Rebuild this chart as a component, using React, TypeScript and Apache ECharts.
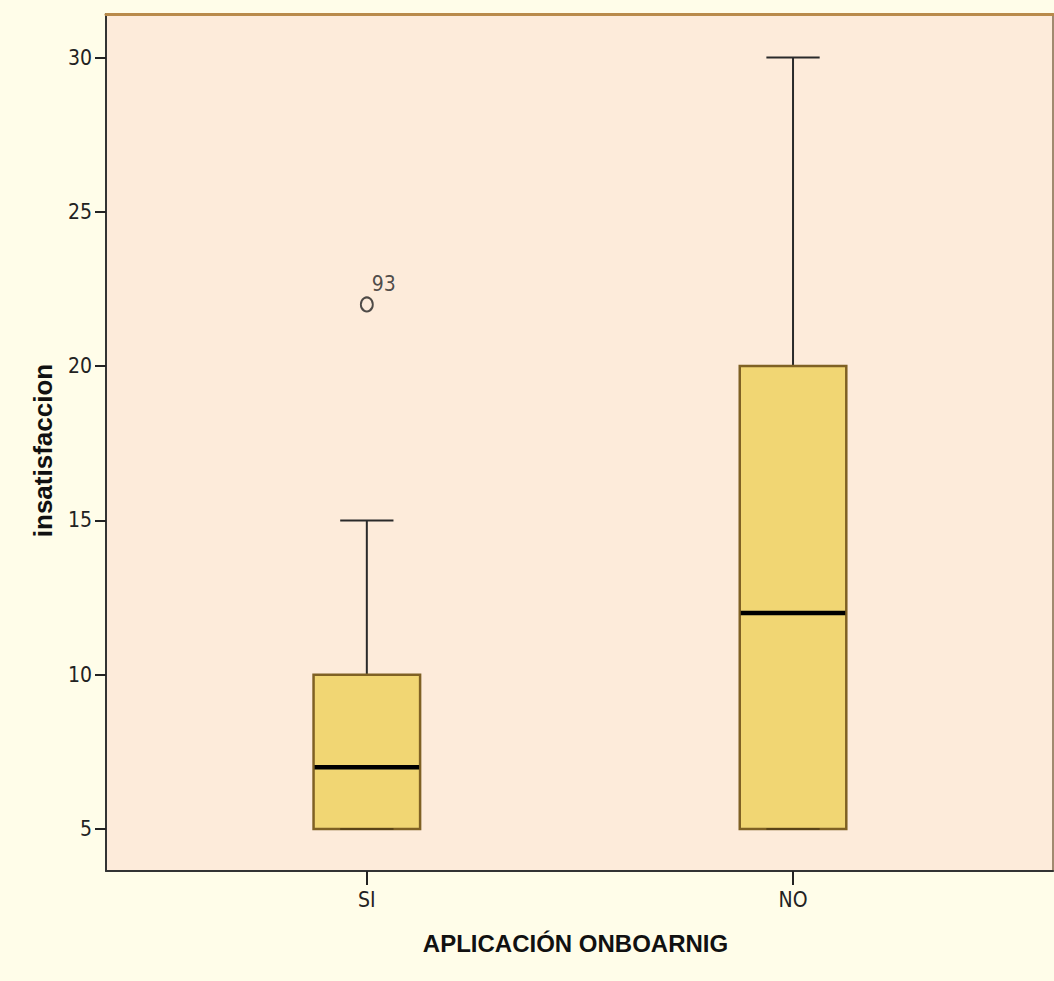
import React, { useEffect, useRef } from "react";
import * as echarts from "echarts";

const categories = ["SI", "NO"];
const minValues = [5, 5];
const q1Values = [5, 5];
const medianValues = [7, 12];
const q3Values = [10, 20];
const maxValues = [15, 30];
const outlierCategory = [0];
const outlierValues = [22];
const outlierLabels = ["93"];
const yTicks = [5, 10, 15, 20, 25, 30];

const NARROW = "'Liberation Sans Narrow', 'Arial Narrow', 'DejaVu Sans Condensed', sans-serif";
const SANS = "'Liberation Sans', Arial, Helvetica, sans-serif";

export default function App() {
  const ref = useRef<HTMLDivElement>(null);
  useEffect(() => {
    if (!ref.current) return;
    const chart = echarts.init(ref.current, null, { renderer: "svg" });
    const boxData = categories.map((_, i) => [
      i,
      minValues[i],
      q1Values[i],
      medianValues[i],
      q3Values[i],
      maxValues[i],
    ]);
    const outData = outlierCategory.map((c, i) => ({
      value: [c, outlierValues[i]],
      name: outlierLabels[i],
    }));
    chart.setOption({
      animation: false,
      backgroundColor: "#fffde9",
      grid: {
        left: 106,
        top: 14,
        right: 1,
        bottom: 110,
        show: true,
        backgroundColor: "#fdebda",
        borderWidth: 0,
      },
      xAxis: [
        {
          type: "value",
          min: -0.612,
          max: 1.61,
          position: "bottom",
          name: "APLICACIÓN ONBOARNIG",
          nameLocation: "middle",
          nameGap: 60,
          nameTextStyle: { fontFamily: SANS, fontWeight: "bold", fontSize: 24, color: "#111", padding: [0, 8, 0, 0] },
          axisLine: { show: true, onZero: false, lineStyle: { color: "#333", width: 2 } },
          axisTick: { show: true, customValues: [0, 1], length: 14, lineStyle: { color: "#222", width: 2 } },
          axisLabel: {
            customValues: [0, 1],
            formatter: (v: number) => categories[Math.round(v)] ?? "",
            margin: 18,
            fontFamily: NARROW,
            fontSize: 21,
            color: "#222",
          },
          splitLine: { show: false },
        },
        {
          type: "value",
          min: -0.612,
          max: 1.61,
          position: "top",
          axisLine: { show: true, onZero: false, lineStyle: { color: "#b98a4b", width: 3 } },
          axisTick: { show: false },
          axisLabel: { show: false },
          splitLine: { show: false },
        },
      ],
      yAxis: [
        {
          type: "value",
          min: 3.64,
          max: 31.41,
          position: "left",
          name: "insatisfaccion",
          nameLocation: "middle",
          nameGap: 50,
          nameTextStyle: { fontFamily: SANS, fontWeight: "bold", fontSize: 26, color: "#111", padding: [0, 16, 0, 0] },
          axisLine: { show: true, onZero: false, lineStyle: { color: "#333", width: 2 } },
          axisTick: { show: true, customValues: yTicks, length: 11, lineStyle: { color: "#222", width: 2 } },
          axisLabel: {
            customValues: yTicks,
            margin: 14,
            fontFamily: NARROW,
            fontSize: 21,
            color: "#222",
          },
          splitLine: { show: false },
        },
        {
          type: "value",
          min: 3.64,
          max: 31.41,
          position: "right",
          axisLine: { show: true, onZero: false, lineStyle: { color: "#a08a70", width: 2 } },
          axisTick: { show: false },
          axisLabel: { show: false },
          splitLine: { show: false },
        },
      ],
      series: [
        {
          type: "custom",
          xAxisIndex: 0,
          yAxisIndex: 0,
          data: boxData,
          encode: { x: 0, y: [1, 2, 3, 4, 5] },
          renderItem: (params: any, api: any) => {
            const x = api.value(0);
            const pMin = api.coord([x, api.value(1)]);
            const pQ1 = api.coord([x, api.value(2)]);
            const pMed = api.coord([x, api.value(3)]);
            const pQ3 = api.coord([x, api.value(4)]);
            const pMax = api.coord([x, api.value(5)]);
            const bw = api.size([0.25, 0])[0];
            const hw = bw / 2;
            const cw = bw / 4;
            const cx = pMed[0];
            const whisker = { stroke: "#2a2a2a", lineWidth: 2 };
            return {
              type: "group",
              children: [
                { type: "line", shape: { x1: cx, y1: pQ3[1], x2: cx, y2: pMax[1] }, style: whisker },
                { type: "line", shape: { x1: cx, y1: pMin[1], x2: cx, y2: pQ1[1] }, style: whisker },
                {
                  type: "rect",
                  shape: { x: cx - hw, y: pQ3[1], width: bw, height: pQ1[1] - pQ3[1] },
                  style: { fill: "#f1d673", stroke: "#7f6124", lineWidth: 2.5 },
                },
                {
                  type: "line",
                  shape: { x1: cx - hw + 1, y1: pMed[1], x2: cx + hw - 1, y2: pMed[1] },
                  style: { stroke: "#000", lineWidth: 4.5 },
                },
                { type: "line", shape: { x1: cx - cw, y1: pMax[1], x2: cx + cw, y2: pMax[1] }, style: whisker },
                { type: "line", shape: { x1: cx - cw, y1: pMin[1], x2: cx + cw, y2: pMin[1] }, style: { stroke: "#5a4418", lineWidth: 2 } },
              ],
            };
          },
        },
        {
          type: "scatter",
          xAxisIndex: 0,
          yAxisIndex: 0,
          data: outData,
          symbol: "circle",
          symbolSize: [12, 14],
          itemStyle: { color: "rgba(0,0,0,0)", borderColor: "#222", borderWidth: 2 },
          label: {
            show: true,
            formatter: (p: any) => p.name,
            position: "inside",
            offset: [17, -20],
            fontFamily: NARROW,
            fontSize: 21,
            color: "#222",
          },
        },
      ],
    });
    return () => chart.dispose();
  }, []);
  return (
    <div
      ref={ref}
      style={{ position: "fixed", left: 0, top: 0, width: 1054, height: 981 }}
    />
  );
}
